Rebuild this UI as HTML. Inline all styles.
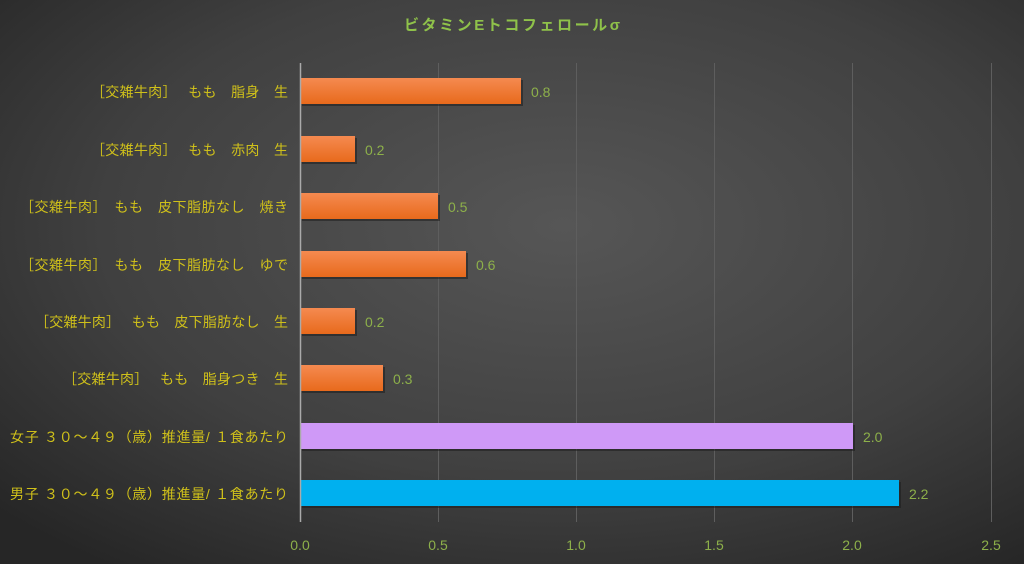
<!DOCTYPE html>
<html><head><meta charset="utf-8"><style>
body{margin:0;width:1024px;height:564px;overflow:hidden;background:#333}
svg{display:block}
text{font-family:"Liberation Sans","Noto Sans CJK JP",sans-serif}
</style></head><body>
<svg width="1024" height="564" viewBox="0 0 1024 564">
<defs>
<radialGradient id="bg" cx="55%" cy="40%" r="75%">
<stop offset="0" stop-color="#565656"/><stop offset="0.6" stop-color="#404040"/><stop offset="1" stop-color="#262626"/>
</radialGradient>
<linearGradient id="or" x1="0" y1="0" x2="0" y2="1"><stop offset="0" stop-color="#f58a50"/><stop offset="1" stop-color="#e86a1c"/></linearGradient>
</defs>
<rect width="1024" height="564" fill="url(#bg)"/>
<text x="404" y="30" fill="#8fc24a" font-size="15" font-weight="bold" textLength="216" lengthAdjust="spacing">ビタミンEトコフェロールσ</text>
<g stroke="#5e5e5e" stroke-width="1">
<line x1="438.5" y1="63" x2="438.5" y2="522"/><line x1="576.5" y1="63" x2="576.5" y2="522"/>
<line x1="714.5" y1="63" x2="714.5" y2="522"/><line x1="852.5" y1="63" x2="852.5" y2="522"/>
<line x1="991.5" y1="63" x2="991.5" y2="522"/>
</g>
<g fill="#1a1a1a" opacity="0.5">
<rect x="302" y="80" width="221" height="26"/><rect x="302" y="138" width="55" height="26"/>
<rect x="302" y="195" width="138" height="26"/><rect x="302" y="253" width="166" height="26"/>
<rect x="302" y="310" width="55" height="26"/><rect x="302" y="367" width="83" height="26"/>
<rect x="302" y="425" width="553" height="26"/><rect x="302" y="482" width="599" height="26"/>
</g>
<g>
<rect x="300" y="78" width="221" height="26" fill="url(#or)"/>
<rect x="300" y="136" width="55" height="26" fill="url(#or)"/>
<rect x="300" y="193" width="138" height="26" fill="url(#or)"/>
<rect x="300" y="251" width="166" height="26" fill="url(#or)"/>
<rect x="300" y="308" width="55" height="26" fill="url(#or)"/>
<rect x="300" y="365" width="83" height="26" fill="url(#or)"/>
<rect x="300" y="423" width="553" height="26" fill="#cf99f7"/>
<rect x="300" y="480" width="599" height="26" fill="#00b0ef"/>
</g>
<line x1="300.5" y1="63" x2="300.5" y2="522" stroke="#aaa" stroke-width="1.5"/>
<g fill="#8db04a" font-size="14">
<text x="531" y="97">0.8</text><text x="365" y="155">0.2</text><text x="448" y="212">0.5</text>
<text x="476" y="270">0.6</text><text x="365" y="327">0.2</text><text x="393" y="384">0.3</text>
<text x="863" y="442">2.0</text><text x="909" y="499">2.2</text>
</g>
<g fill="#cfc01a" font-size="14">
<text x="91" y="97" textLength="197" lengthAdjust="spacing">［交雑牛肉］　 もも　脂身　生</text>
<text x="91" y="155" textLength="197" lengthAdjust="spacing">［交雑牛肉］　 もも　赤肉　生</text>
<text x="20" y="212" textLength="268" lengthAdjust="spacing">［交雑牛肉］　もも　皮下脂肪なし　焼き</text>
<text x="20" y="270" textLength="268" lengthAdjust="spacing">［交雑牛肉］　もも　皮下脂肪なし　ゆで</text>
<text x="35" y="327" textLength="253" lengthAdjust="spacing">［交雑牛肉］　 もも　皮下脂肪なし　生</text>
<text x="63" y="384" textLength="225" lengthAdjust="spacing">［交雑牛肉］　 もも　脂身つき　生</text>
<text x="10" y="442" textLength="278" lengthAdjust="spacing">女子 ３０～４９（歳）推進量/ １食あたり</text>
<text x="10" y="499" textLength="278" lengthAdjust="spacing">男子 ３０～４９（歳）推進量/ １食あたり</text>
</g>
<g fill="#8db04a" font-size="14" text-anchor="middle">
<text x="300" y="550">0.0</text><text x="438" y="550">0.5</text><text x="576" y="550">1.0</text>
<text x="714" y="550">1.5</text><text x="852" y="550">2.0</text><text x="991" y="550">2.5</text>
</g>
</svg>
</body></html>
